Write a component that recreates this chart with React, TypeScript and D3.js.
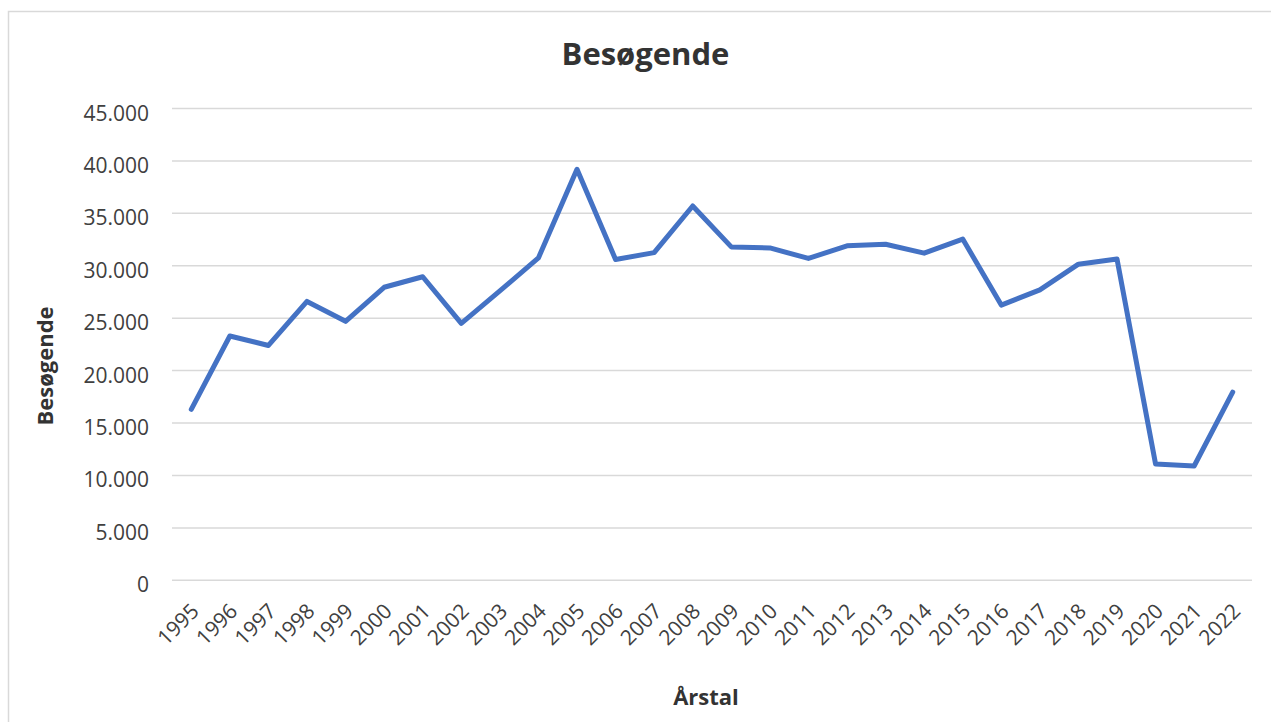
import * as d3 from "d3";

const W = 1271;
const H = 722;
const PLOT = { left: 172, right: 1252, top: 108.5, bottom: 580.3 };
const FONT = "'Open Sans', 'Noto Sans', sans-serif";

// Besøgende pr. år
const years = [
  "1995", "1996", "1997", "1998", "1999", "2000", "2001", "2002", "2003", "2004",
  "2005", "2006", "2007", "2008", "2009", "2010", "2011", "2012", "2013", "2014",
  "2015", "2016", "2017", "2018", "2019", "2020", "2021", "2022",
];
const visitors = [
  16300, 23300, 22400, 26600, 24700, 27950, 28950, 24500, 27600, 30750,
  39200, 30600, 31250, 35700, 31800, 31700, 30700, 31900, 32050, 31200,
  32550, 26250, 27700, 30150, 30650, 11100, 10900, 17950,
];
const yTicks = [0, 5000, 10000, 15000, 20000, 25000, 30000, 35000, 40000, 45000];

const fmt = (v: number) => (v === 0 ? "0" : d3.format(",")(v).replace(/,/g, "."));

export default function App() {
  const x = d3
    .scalePoint<string>()
    .domain(years)
    .range([PLOT.left, PLOT.right])
    .padding(0.5);
  const y = d3.scaleLinear().domain([0, 45000]).range([PLOT.bottom, PLOT.top]);

  const line = d3
    .line<number>()
    .x((_, i) => x(years[i]) as number)
    .y((d) => y(d));

  return (
    <svg
      width={W}
      height={H}
      style={{ position: "absolute", left: 0, top: 0, background: "#fff" }}
      fontFamily={FONT}
    >
      <rect x={8.5} y={11.5} width={1300} height={800} fill="#fff" stroke="#d9d9d9" strokeWidth={1.5} />

      <text x={645.5} y={65} textAnchor="middle" fontSize={31} fontWeight="bold" fill="#333">
        Besøgende
      </text>

      {yTicks.map((t) => (
        <g key={t}>
          <line x1={PLOT.left} x2={PLOT.right} y1={y(t)} y2={y(t)} stroke="#d9d9d9" strokeWidth={1.5} />
          <text x={149} y={y(t) + 12} textAnchor="end" fontSize={21} fill="#404040">
            {fmt(t)}
          </text>
        </g>
      ))}

      {years.map((yr) => (
        <text
          key={yr}
          transform={`translate(${(x(yr) as number) + 9},612.5) rotate(-45)`}
          textAnchor="end"
          fontSize={21}
          fill="#404040"
        >
          {yr}
        </text>
      ))}

      <path
        d={line(visitors) ?? ""}
        fill="none"
        stroke="#4472c4"
        strokeWidth={5}
        strokeLinejoin="round"
        strokeLinecap="round"
      />

      <text
        transform="translate(52.5,366) rotate(-90)"
        textAnchor="middle"
        fontSize={22}
        fontWeight="bold"
        fill="#333"
      >
        Besøgende
      </text>
      <text x={706} y={705} textAnchor="middle" fontSize={22} fontWeight="bold" fill="#333">
        Årstal
      </text>
    </svg>
  );
}
